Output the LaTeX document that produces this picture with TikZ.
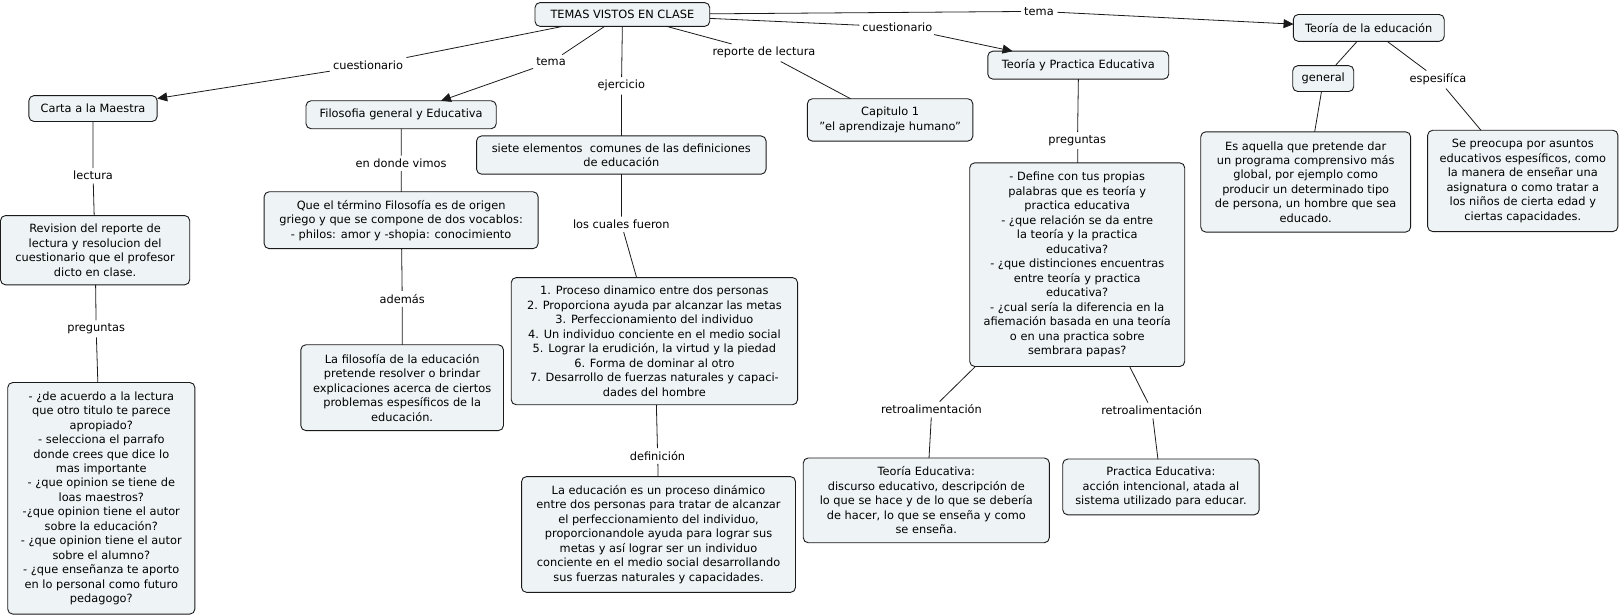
\documentclass[tikz,border=0pt]{standalone}
\usepackage{fontspec}
\setmainfont{DejaVu Sans}
\usetikzlibrary{arrows.meta}
\definecolor{boxfill}{HTML}{EEF3F5}
\definecolor{edgec}{HTML}{1A1A1A}
\begin{document}
\begin{tikzpicture}[x=1pt,y=-1pt,scale=1.0338,transform shape,
 every node/.style={font=\fontsize{11}{14}\selectfont, text=black},
 cbox/.style={draw=edgec, fill=boxfill, rounded corners=5pt, align=center, inner sep=2pt, line width=0.9pt, outer sep=0pt},
 sz/.style 2 args={minimum width=#1pt, minimum height=#2pt},
 lab/.style={inner sep=3pt, align=center},
 conn/.style={draw=edgec, line width=0.8pt},
 arr/.style={conn, -{Triangle[length=10pt,width=9pt]}}
]
\useasboundingbox (0,0) rectangle (1568,594.9);
% boxes
\node[cbox, sz={169}{23}] (temas) at (602,14) {TEMAS VISTOS EN CLASE};
\node[cbox, sz={146}{26}] (teoedu) at (1324,27) {Teoría de la educación};
\node[cbox, sz={175}{27}] (teoprac) at (1043,63) {Teoría y Practica Educativa};
\node[cbox, sz={124}{25}] (carta) at (90,105) {Carta a la Maestra};
\node[cbox, sz={184}{27}] (filo) at (388,111) {Filosofia general y Educativa};
\node[cbox, sz={280}{37}] (siete) at (601,150) {siete elementos~ comunes de las definiciones\\de educación};
\node[cbox, sz={160}{41}] (capitulo) at (861,116) {Capitulo 1\\"el aprendizaje humano"};
\node[cbox, sz={59}{25}] (general) at (1280,76) {general};
\node[cbox, sz={203}{97}] (esaq) at (1263,176) {Es aquella que pretende dar\\un programa comprensivo más\\global, por ejemplo como\\producir un determinado tipo\\de persona, un hombre que sea\\educado.};
\node[cbox, sz={184}{98}] (sepre) at (1473,175) {Se preocupa por asuntos\\educativos espesíficos, como\\la manera de enseñar una\\asignatura o como tratar a\\los niños de cierta edad y\\ciertas capacidades.};
\node[cbox, sz={208}{197}] (preg2) at (1042,256) {- Define con tus propias\\palabras que es teoría y\\practica educativa\\- ¿que relación se da entre\\la teoría y la practica\\educativa?\\- ¿que distinciones encuentras\\entre teoría y practica\\educativa?\\- ¿cual sería la diferencia en la\\afiemación basada en una teoría\\o en una practica sobre\\sembrara papas?};
\node[cbox, sz={183}{67}] (revision) at (92,242) {Revision del reporte de\\lectura y resolucion del\\cuestionario que el profesor\\dicto en clase.};
\node[cbox, sz={265}{55}] (quet) at (388,213) {Que el término Filosofía es de origen\\griego y que se compone de dos vocablos:\\- philos: amor y -shopia: conocimiento};
\node[cbox, sz={277}{123}] (lista) at (633,330) {1. Proceso dinamico entre dos personas\\2. Proporciona ayuda par alcanzar las metas\\3. Perfeccionamiento del individuo\\4. Un individuo conciente en el medio social\\5. Lograr la erudición, la virtud y la piedad\\6. Forma de dominar al otro\\7. Desarrollo de fuerzas naturales y capaci-\\dades del hombre};
\node[cbox, sz={196}{83}] (lafilo) at (389,375) {La filosofía de la educación\\pretende resolver o brindar\\explicaciones acerca de ciertos\\problemas espesíficos de la\\educación.};
\node[cbox, sz={181}{224}] (deac) at (98,482) {- ¿de acuerdo a la lectura\\que otro titulo te parece\\apropiado?\\- selecciona el parrafo\\donde crees que dice lo\\mas importante\\- ¿que opinion se tiene de\\loas maestros?\\-¿que opinion tiene el autor\\sobre la educación?\\- ¿que opinion tiene el autor\\sobre el alumno?\\- ¿que enseñanza te aporto\\en lo personal como futuro\\pedagogo?};
\node[cbox, sz={265}{112}] (laedu) at (637,517) {La educación es un proceso dinámico\\entre dos personas para tratar de alcanzar\\el perfeccionamiento del individuo,\\proporcionandole ayuda para lograr sus\\metas y así lograr ser un individuo\\conciente en el medio social desarrollando\\sus fuerzas naturales y capacidades.};
\node[cbox, sz={238}{82}] (teoeduc) at (896,484) {Teoría Educativa:\\discurso educativo, descripción de\\lo que se hace y de lo que se debería\\de hacer, lo que se enseña y como\\se enseña.};
\node[cbox, sz={190}{54}] (practed) at (1123,471) {Practica Educativa:\\acción intencional, atada al\\sistema utilizado para educar.};
% labels
\node[lab] (cuesL) at (356,63) {cuestionario};
\node[lab] (temaL) at (533,60) {tema};
\node[lab] (ejer) at (601,83) {ejercicio};
\node[lab] (repo) at (739,51) {reporte de lectura};
\node[lab] (cuesR) at (868,26) {cuestionario};
\node[lab] (temaR) at (1005,11) {tema};
\node[lab] (espe) at (1391,77) {espesifíca};
\node[lab] (lect) at (90,170) {lectura};
\node[lab] (donde) at (388,158) {en donde vimos};
\node[lab] (cuales) at (601,217) {los cuales fueron};
\node[lab] (ademas) at (389,289) {además};
\node[lab] (pregL) at (93,318) {preguntas};
\node[lab] (pregR) at (1042,136) {preguntas};
\node[lab] (defi) at (636,441) {definición};
\node[lab] (retroL) at (901,396) {retroalimentación};
\node[lab] (retroR) at (1114,397) {retroalimentación};
% connectors
\draw[conn] (temas) -- (cuesL); \draw[arr] (cuesL) -- (carta);
\draw[conn] (temas) -- (temaL); \draw[arr] (temaL) -- (filo);
\draw[conn] (temas) -- (ejer); \draw[conn] (ejer) -- (siete);
\draw[conn] (temas) -- (repo); \draw[conn] (repo) -- (capitulo);
\draw[conn] (temas) -- (cuesR); \draw[arr] (cuesR) -- (teoprac);
\draw[conn] (temas) -- (temaR); \draw[arr] (temaR) -- (teoedu);
\draw[conn] (teoedu) -- (general); \draw[conn] (general) -- (esaq);
\draw[conn] (teoedu) -- (espe); \draw[conn] (espe) -- (sepre);
\draw[conn] (teoprac) -- (pregR); \draw[conn] (pregR) -- (preg2);
\draw[conn] (preg2) -- (retroL); \draw[conn] (retroL) -- (teoeduc);
\draw[conn] (preg2) -- (retroR); \draw[conn] (retroR) -- (practed);
\draw[conn] (carta) -- (lect); \draw[conn] (lect) -- (revision);
\draw[conn] (revision) -- (pregL); \draw[conn] (pregL) -- (deac);
\draw[conn] (filo) -- (donde); \draw[conn] (donde) -- (quet);
\draw[conn] (quet) -- (ademas); \draw[conn] (ademas) -- (lafilo);
\draw[conn] (siete) -- (cuales); \draw[conn] (cuales) -- (lista);
\draw[conn] (lista) -- (defi); \draw[conn] (defi) -- (laedu);
\end{tikzpicture}
\end{document}
